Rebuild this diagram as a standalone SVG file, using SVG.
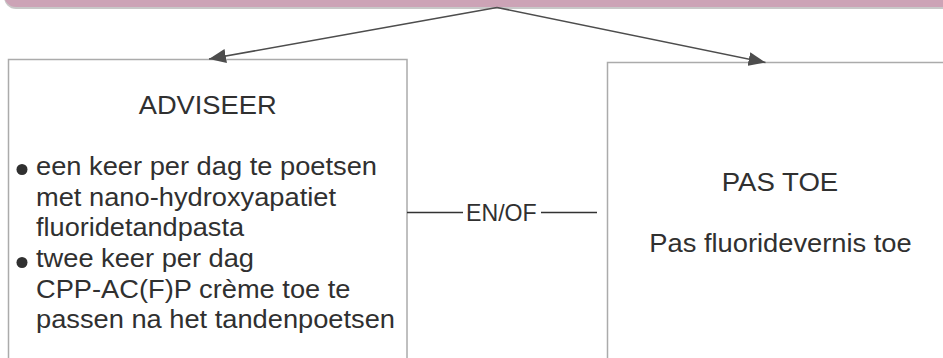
<svg xmlns="http://www.w3.org/2000/svg" width="943" height="358" viewBox="0 0 943 358">
  <style>
    .box { fill: #ffffff; stroke: #ababab; stroke-width: 1.5; }
    .txt { font-family: "Liberation Sans", Arial, sans-serif; fill: #303030; font-size: 25.6px; }
    .title { text-anchor: middle; }
    .conn { stroke: #4d4d4d; stroke-width: 1.6; fill: none; }
    .plain { stroke: #333333; stroke-width: 1.3; fill: none; }
    .bullet { fill: #303030; }
  </style>
  <defs>
    <marker id="arrow" markerUnits="userSpaceOnUse" markerWidth="17" markerHeight="14" refX="17" refY="7" orient="auto">
      <path d="M0,0 L17,7 L0,14 z" fill="#4d4d4d"/>
    </marker>
  </defs>
  <rect width="943" height="358" fill="#ffffff"/>

  <g id="banner">
    <rect x="4" y="-40" width="960" height="49" rx="12" fill="#c8c8c8"/>
    <rect x="4" y="-40" width="960" height="47" rx="12" fill="#cca3b6"/>
  </g>

  <g id="adviseer">
    <rect class="box" x="8.5" y="59.5" width="398.5" height="320"/>
    <text class="txt title" x="207.7" y="114" textLength="138" lengthAdjust="spacingAndGlyphs">ADVISEER</text>
    <circle class="bullet" cx="22" cy="169.5" r="5.5"/>
    <text class="txt" x="36" y="174.5" textLength="341" lengthAdjust="spacingAndGlyphs">een keer per dag te poetsen</text>
    <text class="txt" x="36" y="205.5" textLength="300" lengthAdjust="spacingAndGlyphs">met nano-hydroxyapatiet</text>
    <text class="txt" x="36" y="236" textLength="208" lengthAdjust="spacingAndGlyphs">fluoridetandpasta</text>
    <circle class="bullet" cx="22" cy="262.5" r="5.5"/>
    <text class="txt" x="36" y="266.5" textLength="218" lengthAdjust="spacingAndGlyphs">twee keer per dag</text>
    <text class="txt" x="36" y="297.5" textLength="314.5" lengthAdjust="spacingAndGlyphs">CPP-AC(F)P crème toe te</text>
    <text class="txt" x="36" y="328" textLength="359" lengthAdjust="spacingAndGlyphs">passen na het tandenpoetsen</text>
  </g>

  <g id="pastoe">
    <rect class="box" x="607.5" y="62.5" width="350" height="320"/>
    <text class="txt title" x="780" y="190.7" textLength="116.5" lengthAdjust="spacingAndGlyphs">PAS TOE</text>
    <text class="txt title" x="780.5" y="251.7" textLength="262.4" lengthAdjust="spacingAndGlyphs">Pas fluoridevernis toe</text>
  </g>

  <g id="connectors">
    <line class="conn" x1="497" y1="7.5" x2="209" y2="59" marker-end="url(#arrow)"/>
    <line class="conn" x1="497" y1="7.5" x2="765.5" y2="62.5" marker-end="url(#arrow)"/>
    <line class="plain" x1="407" y1="212.5" x2="463" y2="212.5"/>
    <line class="plain" x1="541" y1="212.5" x2="597" y2="212.5"/>
    <text class="txt" x="466" y="221" textLength="70.7" lengthAdjust="spacingAndGlyphs" style="font-size:24px">EN/OF</text>
  </g>
</svg>
